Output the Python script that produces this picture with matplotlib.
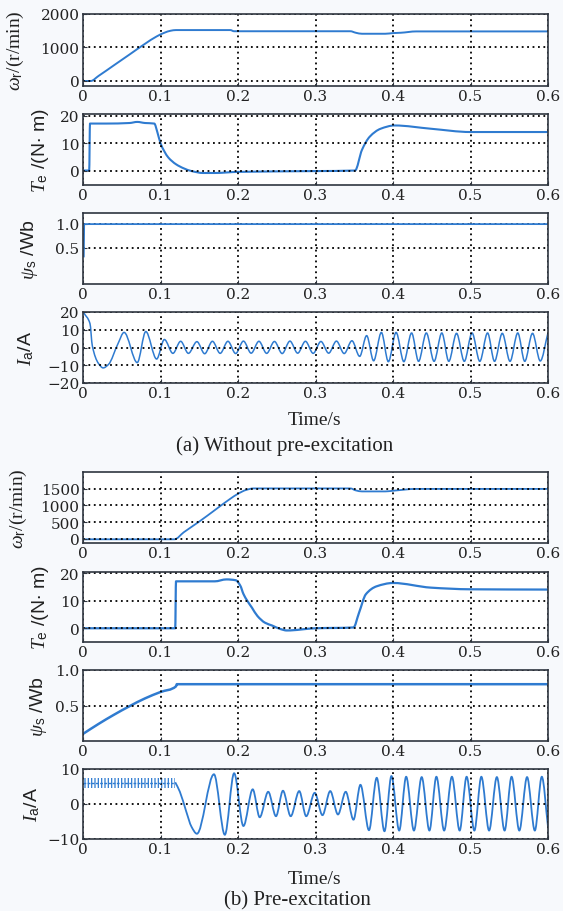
import matplotlib
matplotlib.use("Agg")
import matplotlib.pyplot as plt
from matplotlib.path import Path
from matplotlib.patches import PathPatch

# ---- data ----
# (a) without pre-excitation
t_wr_a = [0, 0.01, 0.02, 0.04, 0.06, 0.08, 0.095, 0.105, 0.113, 0.12, 0.19, 0.195,
          0.345, 0.352, 0.36, 0.39, 0.40, 0.41, 0.43, 0.6]
wr_a = [0, 0, 150, 470, 790, 1110, 1330, 1440, 1500, 1520, 1520, 1485,
        1485, 1440, 1410, 1410, 1430, 1440, 1480, 1480]

t_te_a = [0, 0.008, 0.009, 0.03, 0.06, 0.07, 0.08, 0.092, 0.096, 0.1, 0.105, 0.11,
          0.12, 0.13, 0.14, 0.155, 0.17, 0.2, 0.3, 0.351, 0.36, 0.37, 0.384, 0.402,
          0.449, 0.5, 0.6]
te_a = [0, 0, 17.2, 17.2, 17.4, 17.8, 17.4, 17.2, 14, 10, 7, 4.8,
        2.3, 0.8, -0.2, -0.9, -0.9, -0.5, -0.2, 0, 7.6, 12.4, 15.3, 16.5,
        15.3, 14.1, 14.1]

t_psi_a = [0.001, 0.0015, 0.6]
psi_a = [0.32, 0.99, 0.99]

t_ia_a = [0.001, 0.009, 0.012, 0.02, 0.026, 0.033, 0.045, 0.053, 0.07, 0.081, 0.095,
          0.105, 0.116, 0.126, 0.136, 0.147, 0.157, 0.167, 0.177, 0.187, 0.197,
          0.207, 0.217, 0.227, 0.237, 0.247, 0.257, 0.267, 0.277, 0.287, 0.297,
          0.307, 0.317, 0.327, 0.337, 0.347, 0.357, 0.366, 0.375, 0.385, 0.394,
          0.404, 0.414, 0.424, 0.433, 0.443, 0.453, 0.463, 0.472, 0.482, 0.492,
          0.502, 0.512, 0.522, 0.531, 0.541, 0.551, 0.561, 0.570, 0.580, 0.590, 0.6]
ia_a = [19.5, 13.5, 1, -9, -11.5, -9.5, 2, 8.5, -8.5, 9, -6.5,
        4.5, -3.3, 3.5, -3.3, 3.3, -3.5, 3.5, -3.3, 3.5, -3.4,
        3.6, -3.2, 3.5, -3.3, 3.4, -3.4, 3.6, -3.2, 3.5, -3.3,
        3.4, -3.2, 3.6, -3.4, 3.8, -5, 6.7, -7.5, 8.5, -8,
        8.5, -8, 8.2, -7.8, 8.2, -7.8, 8.2, -7.8, 8.0, -7.8,
        8.2, -7.8, 8.2, -7.8, 8.0, -7.8, 8.2, -7.8, 8.0, -7.6, 8.3]

# (b) pre-excitation
t_wr_b = [0, 0.118, 0.13, 0.15, 0.17, 0.19, 0.20, 0.21, 0.22, 0.345, 0.352, 0.36,
          0.39, 0.40, 0.43, 0.6]
wr_b = [-10, -10, 200, 520, 860, 1200, 1350, 1460, 1510, 1510, 1450, 1420,
        1420, 1440, 1495, 1495]

t_te_b = [0, 0.119, 0.12, 0.17, 0.185, 0.197, 0.203, 0.207, 0.212, 0.218, 0.225,
          0.235, 0.244, 0.255, 0.263, 0.3, 0.349, 0.356, 0.365, 0.379, 0.4, 0.449,
          0.5, 0.6]
te_b = [0, 0, 17.1, 17.1, 17.8, 17.5, 15.5, 12.5, 10, 7.5, 4.5,
        2, 1, -0.3, -0.8, 0, 0.3, 5.5, 12.4, 15.3, 16.5, 14.8,
        14.2, 14.1]

t_psi_b = [0, 0.02, 0.04, 0.06, 0.08, 0.1, 0.12, 0.121, 0.6]
psi_b = [0.1, 0.24, 0.37, 0.49, 0.6, 0.69, 0.77, 0.80, 0.80]

# dc pre-excitation current with fast ripple (band) before start
t_band_b = [0, 0.119]
band_lo_b = [4.6, 4.6]
band_hi_b = [7.3, 7.3]
band_mid_b = [6.0, 6.0]

t_ia_b = [0.119, 0.125, 0.133, 0.14, 0.147, 0.169, 0.183, 0.195, 0.207, 0.219,
          0.228, 0.239, 0.249, 0.258, 0.268, 0.279, 0.288, 0.299, 0.309, 0.319,
          0.329, 0.339, 0.349, 0.358, 0.369, 0.379, 0.389, 0.398, 0.408, 0.417,
          0.427, 0.437, 0.447, 0.456, 0.466, 0.476, 0.486, 0.495, 0.505, 0.514,
          0.524, 0.534, 0.544, 0.553, 0.563, 0.573, 0.583, 0.592, 0.6]
ia_b = [6.2, 3.5, -2, -6.5, -8.5, 8.5, -8.8, 8.8, -6.3, 4.2,
        -3.8, 3.5, -3.5, 3.8, -3.5, 3.7, -3.5, 3.2, -3.2, 3.7,
        -3.0, 3.5, -4.5, 5.5, -7.5, 7.5, -7.8, 8.0, -7.6, 7.8,
        -7.6, 7.7, -7.6, 7.8, -7.6, 7.8, -7.6, 7.8, -7.6, 7.8,
        -7.6, 7.7, -7.6, 7.8, -7.6, 7.7, -7.6, 7.8, -6.5]

x_ticks = [0, 0.1, 0.2, 0.3, 0.4, 0.5, 0.6]
x_labels = ["0", "0.1", "0.2", "0.3", "0.4", "0.5", "0.6"]

# ---- style ----
BLUE = "#2f7bd0"
FRAME = "#2f3640"
W, H = 563, 912
LEFT, RIGHT = 83, 548

plt.rcParams["mathtext.fontset"] = "custom"
plt.rcParams["mathtext.rm"] = "Liberation Sans"
plt.rcParams["mathtext.it"] = "Liberation Serif:italic"
plt.rcParams["hatch.linewidth"] = 0.9

fig = plt.figure(figsize=(W / 100, H / 100), dpi=100, facecolor="#f7f9fc")


def smooth_trace(ax, t, v, lw):
    # monotone cubic (pchip-style) bezier through the read points
    n = len(t)
    s = [(v[i + 1] - v[i]) / (t[i + 1] - t[i]) for i in range(n - 1)]
    h = [t[i + 1] - t[i] for i in range(n - 1)]
    m = [0.0] * n
    m[0], m[-1] = s[0], s[-1]
    for i in range(1, n - 1):
        if s[i - 1] * s[i] <= 0:
            m[i] = 0.0
        else:
            w1 = 2 * h[i] + h[i - 1]
            w2 = h[i] + 2 * h[i - 1]
            m[i] = (w1 + w2) / (w1 / s[i - 1] + w2 / s[i])
    verts = [(t[0], v[0])]
    codes = [Path.MOVETO]
    for i in range(n - 1):
        d = h[i] / 3
        verts += [(t[i] + d, v[i] + d * m[i]), (t[i + 1] - d, v[i + 1] - d * m[i + 1]),
                  (t[i + 1], v[i + 1])]
        codes += [Path.CURVE4] * 3
    ax.add_patch(PathPatch(Path(verts, codes), fill=False, edgecolor=BLUE, lw=lw,
                           joinstyle="round"))


def make_axes(top, bottom, ylim, yticks, ylabel, label_right, label_family):
    ax = fig.add_axes([LEFT / W, 1 - bottom / H, (RIGHT - LEFT) / W, (bottom - top) / H])
    ax.set_facecolor("white")
    ax.set_xlim(0, 0.6)
    ax.set_ylim(*ylim)
    ax.set_xticks(x_ticks)
    ax.set_xticklabels(x_labels)
    ax.set_yticks(yticks)
    ax.set_yticklabels([str(v) for v in yticks])
    for sp in ax.spines.values():
        sp.set_color(FRAME)
        sp.set_linewidth(1.2)
    ax.tick_params(direction="in", length=3, width=0.8, color=FRAME, pad=2.5,
                   labelsize=11, labelcolor="#222222")
    for lab in ax.get_xticklabels() + ax.get_yticklabels():
        lab.set_family("DejaVu Serif")
    ax.grid(True, color="black", linestyle=(0, (1, 2)), linewidth=1.3)
    ax.set_ylabel(ylabel, family=label_family, fontsize=14, color="#222222")
    ax.yaxis.set_label_coords((label_right - LEFT) / (RIGHT - LEFT), 0.5)
    return ax


# (a)
ax = make_axes(15, 87, (-150, 2000), [0, 1000, 2000],
               r"$\omega_{\rm r}$/(r/min)", 26, "Liberation Serif")
smooth_trace(ax, t_wr_a, wr_a, 1.4)

ax = make_axes(115, 186, (-5.3, 20.7), [0, 10, 20],
               r"$T_{\rm e}$ /(N$\bullet$ m)", 51, "Liberation Sans")
smooth_trace(ax, t_te_a, te_a, 1.5)

ax = make_axes(214, 285, (-0.25, 1.22), [0.5, 1.0],
               r"$\psi_{\rm s}$ /Wb", 40, "Liberation Sans")
ax.set_yticklabels(["0.5", "1.0"])
ax.plot(t_psi_a, psi_a, color=BLUE, lw=1.3)

ax = make_axes(313, 384, (-20, 20), [-20, -10, 0, 10, 20],
               r"$I_{\rm a}$/A", 36, "Liberation Sans")
ax.set_yticklabels(["\u221220", "\u221210", "0", "10", "20"])
smooth_trace(ax, t_ia_a, ia_a, 1.1)

fig.text(315 / W, 1 - 421 / H, "Time/s", ha="center", va="center",
         family="Liberation Serif", fontsize=14, color="#222222")
fig.text(285 / W, 1 - 446 / H, "(a) Without pre-excitation", ha="center", va="center",
         family="Liberation Serif", fontsize=15, color="#222222")

# (b)
ax = make_axes(473, 544, (-120, 2000), [0, 500, 1000, 1500],
               r"$\omega_{\rm r}$/(r/min)", 29, "Liberation Serif")
smooth_trace(ax, t_wr_b, wr_b, 1.3)

ax = make_axes(573, 643, (-5, 20.5), [0, 10, 20],
               r"$T_{\rm e}$ /(N$\bullet$ m)", 51, "Liberation Sans")
smooth_trace(ax, t_te_b, te_b, 1.6)

ax = make_axes(671, 742, (0, 1.0), [0.5, 1.0],
               r"$\psi_{\rm s}$ /Wb", 49, "Liberation Sans")
ax.set_yticklabels(["0.5", "1.0"])
smooth_trace(ax, t_psi_b, psi_b, 1.8)

ax = make_axes(770, 840, (-10, 10), [-10, 0, 10],
               r"$I_{\rm a}$/A", 42, "Liberation Sans")
ax.set_yticklabels(["\u221210", "0", "10"])
ax.fill_between(t_band_b, band_lo_b, band_hi_b, facecolor="none", edgecolor=BLUE,
                hatch="|||||", linewidth=0)
ax.plot(t_band_b, band_mid_b, color=BLUE, lw=1.0, linestyle=(0, (2, 1)))
smooth_trace(ax, t_ia_b, ia_b, 1.3)

fig.text(315 / W, 1 - 880 / H, "Time/s", ha="center", va="center",
         family="Liberation Serif", fontsize=14, color="#222222")
fig.text(297 / W, 1 - 901 / H, "(b) Pre-excitation", ha="center", va="center",
         family="Liberation Serif", fontsize=15, color="#222222")

fig.savefig("out.png", dpi=100, facecolor=fig.get_facecolor())
